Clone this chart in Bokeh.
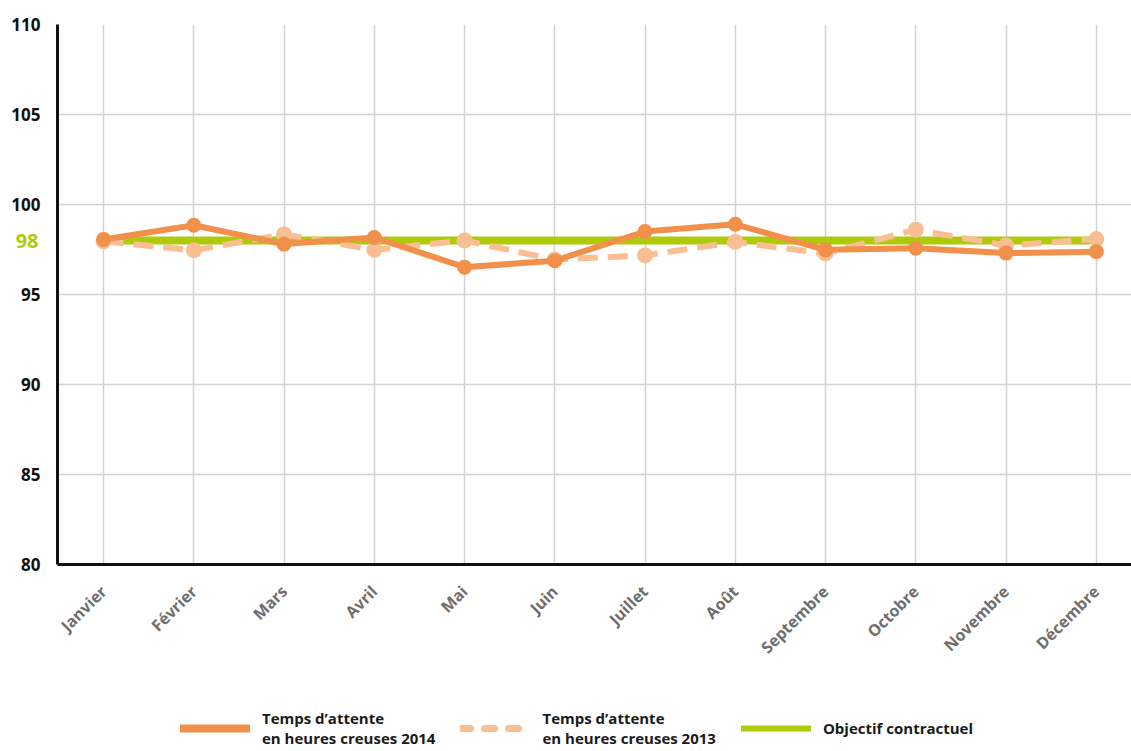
import math
from bokeh.plotting import figure
from bokeh.layouts import column
from bokeh.models import (FixedTicker, Legend, LegendItem, Range1d, ColumnDataSource,
                          LinearAxis)
from bokeh.embed import file_html
from bokeh.resources import INLINE

months = ["Janvier", "Février", "Mars", "Avril", "Mai", "Juin", "Juillet",
          "Août", "Septembre", "Octobre", "Novembre", "Décembre"]
v2014 = [98.06, 98.85, 97.80, 98.17, 96.52, 96.88, 98.50, 98.90, 97.48, 97.57, 97.30, 97.38]
v2013 = [97.96, 97.46, 98.34, 97.48, 98.00, 96.94, 97.17, 97.92, 97.28, 98.60, 97.72, 98.08]
objectif = [98] * 12
y_ticks = [80, 85, 90, 95, 100, 105, 110]
target_ticks = [98]

label_2014 = "Temps d\u2019attente\nen heures creuses 2014"
label_2013 = "Temps d\u2019attente\nen heures creuses 2013"
label_obj = "Objectif contractuel"

FONT = "Open Sans"
C2014 = "#F0904B"
C2013 = "#F9BE92"
CGREEN = "#AFCA0B"

xs = list(range(len(months)))
src = ColumnDataSource(dict(x=xs, v2014=v2014, v2013=v2013, obj=objectif))

W = 1131
p = figure(width=W, height=706, output_backend="svg", toolbar_location=None,
           x_range=Range1d(-0.51, 11.39), y_range=Range1d(80, 110),
           min_border_left=57, min_border_top=24, min_border_right=0,
           min_border_bottom=142)
p.outline_line_color = None

# grid
p.xgrid.ticker = FixedTicker(ticks=xs)
p.ygrid.ticker = FixedTicker(ticks=y_ticks)
p.grid.grid_line_color = "#d2d2d2"
p.grid.grid_line_width = 1.5

# axes
p.xaxis.ticker = FixedTicker(ticks=xs)
p.xaxis.major_label_overrides = {i: m for i, m in enumerate(months)}
p.xaxis.major_label_orientation = math.pi / 4
p.xaxis.major_label_text_font = FONT
p.xaxis.major_label_text_font_style = "bold"
p.xaxis.major_label_text_font_size = "16px"
p.xaxis.major_label_text_color = "#6e6e6e"
p.xaxis.major_label_standoff = 24

p.yaxis.ticker = FixedTicker(ticks=y_ticks)
p.yaxis.major_label_text_font = FONT
p.yaxis.major_label_text_font_style = "bold"
p.yaxis.major_label_text_font_size = "17px"
p.yaxis.major_label_text_color = "#111111"
p.yaxis.major_label_standoff = 17

for ax in (p.xaxis, p.yaxis):
    ax.axis_line_color = "#111111"
    ax.axis_line_width = 3
    ax.major_tick_line_color = None
    ax.minor_tick_line_color = None
    ax.major_tick_out = 0
    ax.major_tick_in = 0

# green "98" target label on a second left axis
ax98 = LinearAxis(ticker=FixedTicker(ticks=target_ticks), axis_line_color=None,
                  major_tick_line_color=None, minor_tick_line_color=None,
                  major_tick_out=0, major_tick_in=0, major_label_standoff=-30,
                  major_label_text_font=FONT, major_label_text_font_style="bold",
                  major_label_text_font_size="20px", major_label_text_color=CGREEN)
p.add_layout(ax98, "left")

# series
r_obj = p.line("x", "obj", source=src, line_color=CGREEN, line_width=8)
r13 = p.line("x", "v2013", source=src, line_color=C2013, line_width=6,
             line_dash="20 10")
r13c = p.scatter("x", "v2013", source=src, size=16, fill_color=C2013, line_color=None)
r14 = p.line("x", "v2014", source=src, line_color=C2014, line_width=6)
r14c = p.scatter("x", "v2014", source=src, size=15, fill_color=C2014, line_color=None)

# legend in its own strip
lg = figure(width=W, height=45, output_backend="svg", toolbar_location=None,
            x_range=Range1d(0, 1), y_range=Range1d(0, 1), min_border=0)
lg.outline_line_color = None
lg.xaxis.visible = False
lg.yaxis.visible = False
lg.grid.visible = False
leg14 = lg.line([0, 1], [-5, -5], line_color=C2014, line_width=8, line_cap="round")
leg13 = lg.line([0, 1], [-5, -5], line_color=C2013, line_width=7, line_dash="10 14",
                line_cap="round")
legobj = lg.line([0, 1], [-5, -5], line_color=CGREEN, line_width=6, line_cap="round")
legend = Legend(items=[LegendItem(label=label_2014, renderers=[leg14]),
                       LegendItem(label=label_2013, renderers=[leg13]),
                       LegendItem(label=label_obj, renderers=[legobj])],
                orientation="horizontal", location=(123, 3),
                glyph_width=70, glyph_height=30, label_standoff=12, spacing=25,
                border_line_alpha=0, background_fill_alpha=0, padding=0, margin=0,
                label_text_font=FONT, label_text_font_style="bold",
                label_text_font_size="15px", label_text_color="#1a1a1a")
lg.add_layout(legend)

open("out.html", "w").write(file_html(column(p, lg, spacing=0), INLINE))
